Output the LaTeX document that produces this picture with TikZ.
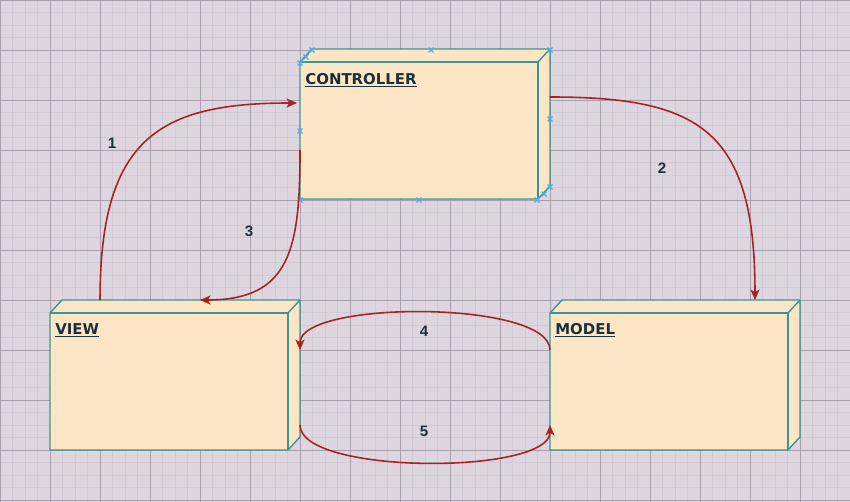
\documentclass[tikz,border=0pt]{standalone}
\usepackage{fontspec}
\setmainfont{DejaVu Sans}
\newfontfamily\numfont{Liberation Sans}
\usetikzlibrary{calc}
\usetikzlibrary{arrows.meta}

\definecolor{bgpaper}{RGB}{222,214,223}
\definecolor{gridlight}{RGB}{211,202,213}
\definecolor{griddark}{RGB}{170,160,173}
\definecolor{boxfill}{RGB}{252,230,198}
\definecolor{boxteal}{RGB}{58,150,144}
\definecolor{flowred}{RGB}{166,34,38}
\definecolor{inkdark}{RGB}{28,48,60}
\definecolor{handleblue}{RGB}{80,175,235}

\tikzset{
  umlbox/.style={minimum width=5cm, minimum height=3cm, inner sep=0pt, outer sep=0pt},
  boxline/.style={draw=boxteal, fill=boxfill, line width=0.8pt, line join=round},
  boxtitle/.style={anchor=base west, inner sep=0pt, text=inkdark,
    font=\bfseries\fontsize{8.5}{10}\selectfont},
  numlabel/.style={inner sep=1pt, text=inkdark, font=\numfont\bfseries\fontsize{8.6}{10}\selectfont},
  flow/.style={draw=flowred, line width=0.9pt, -{Stealth[length=6pt,width=5.2pt,inset=1.6pt]}},
  handle/.style={draw=handleblue, line width=0.7pt},
  gridminor/.style={draw=gridlight, line width=0.35pt},
  gridmajor/.style={draw=griddark, line width=0.5pt}
}

\begin{document}
\begin{tikzpicture}[x=0.02cm, y=-0.02cm]
    \useasboundingbox (0,0) rectangle (850,502);
    \fill[bgpaper] (0,0) rectangle (850,502);
    \foreach \g in {0,12.5,...,850} \draw[gridminor] (\g,0) -- (\g,502);
    \foreach \g in {0,12.5,...,502} \draw[gridminor] (0,\g) -- (850,\g);
    \foreach \g in {0,50,...,850} \draw[gridmajor] (\g,0) -- (\g,502);
    \foreach \g in {0,50,...,500} \draw[gridmajor] (0,\g) -- (850,\g);

    \node[umlbox] (ctrl) at (425,124) {};
    \node[umlbox] (view) at (175,375) {};
    \node[umlbox] (model) at (675,375) {};

    \foreach \n in {ctrl,view,model}{
      \draw[boxline] (\n.south west) -- ($(\n.north west)+(0,13)$) -- ($(\n.north west)+(12,0)$)
        -- (\n.north east) -- ($(\n.south east)+(0,-13)$) -- ($(\n.south east)+(-12,0)$) -- cycle;
      \draw[boxline, fill=none] ($(\n.north west)+(0,13)$) -- ($(\n.north east)+(-12,13)$)
        -- ($(\n.south east)+(-12,0)$);
      \draw[boxline, fill=none] ($(\n.north east)+(-12,13)$) -- (\n.north east);
    }

    \node[boxtitle] (ctrltitle) at ($(ctrl.north west)+(5,35)$) {\underline{CONTROLLER}};
    \node[boxtitle] (viewtitle) at ($(view.north west)+(5,34)$) {\underline{VIEW}};
    \node[boxtitle] (modeltitle) at ($(model.north west)+(5,34)$) {\underline{MODEL}};

    \foreach \dx/\dy in {0/14, 6/8, 12/1, 131/1, 250/1, 250/70, 250/138, 244/145, 237/151, 119/151, 0/151, 0/82}
      \draw[handle] ($(ctrl.north west)+(\dx,\dy)$) +(-2.5,-2.5) -- +(2.5,2.5) +(-2.5,2.5) -- +(2.5,-2.5);

    \draw[flow] ($(view.north west)+(50,0)$) .. controls +(0,-160) and +(-140,0) .. ($(ctrl.west)+(-3,-21)$);
    \draw[flow] ($(ctrl.east)+(0,-27)$) .. controls +(150,0) and +(0,-170) .. ($(model.north)+(80,0)$);
    \draw[flow] ($(ctrl.west)+(0,26)$) .. controls +(0,100) and +(90,0) .. ($(view.north)+(25,0)$);
    \draw[flow] ($(model.west)+(0,-25)$) .. controls +(0,-50) and +(0,-50) .. ($(view.east)+(0,-25)$);
    \draw[flow] ($(view.east)+(0,50)$) .. controls +(0,50) and +(0,50) .. ($(model.west)+(0,50)$);

    \node[numlabel] (n1) at (112,143) {1};
    \node[numlabel] (n2) at (662,168) {2};
    \node[numlabel] (n3) at (249,231) {3};
    \node[numlabel] (n4) at (424,331) {4};
    \node[numlabel] (n5) at (424,431) {5};
  \end{tikzpicture}
\end{document}
